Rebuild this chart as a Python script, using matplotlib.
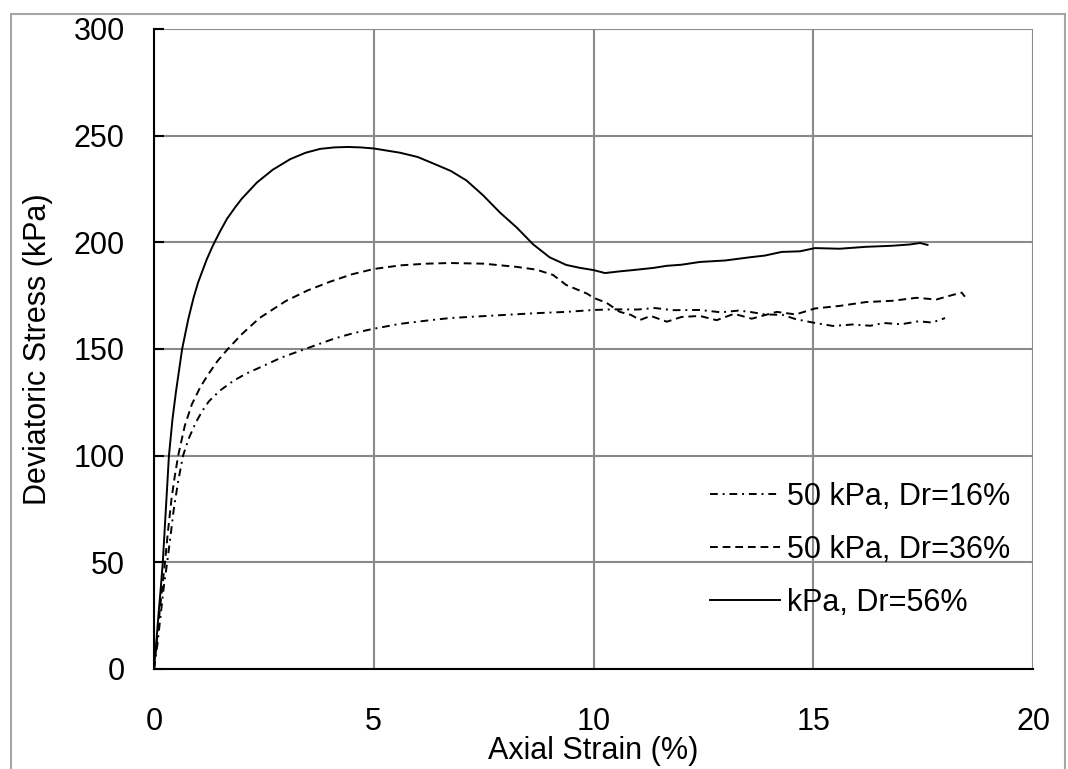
import matplotlib.pyplot as plt
from matplotlib.patches import Rectangle

# Dr = 16 % (dash-dot)
strain_16 = [0, 0.08, 0.15, 0.22, 0.3, 0.38, 0.45, 0.55, 0.66, 0.8, 0.95, 1.1, 1.25, 1.5, 1.8,
             2.1, 2.48, 2.9, 3.37, 3.75, 4.12, 4.55, 5.0, 5.6, 6.2, 6.73, 7.4, 8.0, 8.7, 9.38,
             10.0, 10.5, 11.0, 11.4, 11.8, 12.42, 12.9, 13.3, 13.56, 13.9, 14.3, 14.6, 15.04,
             15.45, 15.9, 16.3, 16.6, 17.0, 17.4, 17.7, 18.0]
stress_16 = [0, 12, 25, 38, 50, 63, 75, 88, 100, 108.5, 115.5, 121, 125.5, 130.5, 135,
             138.5, 142, 146, 149.5, 152.3, 155, 157.5, 159.5, 161.8, 163.3, 164.5, 165.3, 166, 166.8, 167.4,
             168.3, 168.6, 168.5, 169.2, 168.2, 168.3, 167.2, 168.0, 167.4, 166.2, 166.0, 164.0, 162.2,
             160.8, 161.5, 160.9, 162.2, 161.6, 163.0, 162.4, 164.5]

# Dr = 36 % (dashed)
strain_36 = [0, 0.06, 0.12, 0.18, 0.25, 0.32, 0.4, 0.47, 0.55, 0.7, 0.86, 1.05, 1.23, 1.45, 1.68,
             2.0, 2.4, 3.0, 3.5, 4.0, 4.5, 5.0, 5.6, 6.2, 6.73, 7.5, 8.25, 8.7, 9.08, 9.38,
             9.85, 10.0, 10.3, 10.6, 10.85, 11.06, 11.3, 11.67, 12.0, 12.42, 12.8, 13.2, 13.6,
             14.17, 14.6, 15.04, 15.6, 16.2, 16.8, 17.35, 17.8, 18.2, 18.38, 18.45]
stress_36 = [0, 12, 25, 37, 50, 65, 80, 90, 100, 114, 124, 132, 138, 144.5, 150,
             157, 164.5, 172.5, 177.5, 181.5, 185, 187.5, 189.2, 190, 190.3, 190, 188.5, 187.2, 184.7, 180,
             176, 174, 171.6, 167.4, 166, 163.6, 165.5, 162.8, 165, 165.5, 163.5, 166.5, 164.2,
             167.4, 166.2, 169, 170.2, 172, 172.6, 174, 173.2, 175.5, 176.4, 174.5]

# Dr = 56 % (solid)
strain_56 = [0, 0.05, 0.1, 0.15, 0.2, 0.27, 0.34, 0.42, 0.5, 0.64, 0.78, 0.9, 1.0, 1.2, 1.34, 1.5,
             1.66, 1.85, 2.0, 2.34, 2.7, 3.1, 3.45, 3.78, 4.1, 4.41, 4.7, 5.0, 5.6, 6.0, 6.35, 6.75, 7.11,
             7.49, 7.87, 8.25, 8.63, 9.0, 9.38, 9.7, 10.0, 10.26, 10.6, 10.9, 11.36, 11.67,
             12.0, 12.42, 13.0, 13.56, 13.9, 14.28, 14.7, 15.04, 15.6, 16.2, 16.8, 17.2, 17.43, 17.6]
stress_56 = [0, 12, 25, 37, 50, 75, 100, 117, 130, 150, 164, 174, 181, 192, 198.5, 205,
             211, 216.5, 220.5, 228, 234, 239, 242, 243.8, 244.5, 244.7, 244.5, 244, 242, 240, 237, 233.5, 229,
             222, 214, 207, 199, 193, 189.4, 188, 187, 185.6, 186.4, 187, 188, 189,
             189.5, 190.8, 191.5, 193, 193.8, 195.5, 195.8, 197.3, 197.0, 197.9, 198.4, 199.0, 199.7, 198.8]

labels = ["50 kPa, Dr=16%", "50 kPa, Dr=36%", "kPa, Dr=56%"]

x_ticks = [0, 5, 10, 15, 20]
y_ticks = [0, 50, 100, 150, 200, 250, 300]


def main() -> None:
    plt.rcParams['font.family'] = ['Liberation Sans', 'DejaVu Sans']
    fs = 22

    fig = plt.figure(figsize=(10.68, 7.69), dpi=100)
    ax = fig.add_axes([154 / 1068, 1 - 669 / 769, 879 / 1068, 640 / 769])

    ax.plot(strain_16, stress_16, color='black', lw=1.4,
            linestyle=(0, (4, 2.5, 1, 2.5)), label=labels[0])
    ax.plot(strain_36, stress_36, color='black', lw=1.4,
            linestyle=(0, (4, 2.5)), label=labels[1])
    ax.plot(strain_56, stress_56, color='black', lw=1.4,
            linestyle='-', label=labels[2])

    ax.set_xlim(0, 20)
    ax.set_ylim(0, 300)
    ax.set_xticks(x_ticks)
    ax.set_yticks(y_ticks)
    ax.grid(True, color='#8a8a8a', lw=1.5)
    ax.set_axisbelow(True)

    for s in ['top', 'right']:
        ax.spines[s].set_visible(False)
    for s in ['left', 'bottom']:
        ax.spines[s].set_linewidth(1.5)
        ax.spines[s].set_color('black')

    ax.tick_params(axis='x', length=0, pad=27, labelsize=fs)
    ax.tick_params(axis='y', direction='in', length=7, width=1.5, pad=21, labelsize=fs)

    ax.set_xlabel("Axial Strain (%)", fontsize=fs)
    ax.set_ylabel("Deviatoric Stress (kPa)", fontsize=fs)
    ax.xaxis.set_label_coords(0.5, (669 - 751) / 640)
    ax.xaxis.label.set_va('center')
    ax.yaxis.set_label_coords((38 - 154) / 879, 0.5)
    ax.yaxis.label.set_va('center')

    ax.legend(loc='upper left', bbox_to_anchor=((710 - 154) / 879, (669 - 482) / 640),
              frameon=False, fontsize=fs, borderpad=0, borderaxespad=0,
              handlelength=2.29, handletextpad=0.23, labelspacing=0.75)

    # outer chart border
    fig.patches.append(Rectangle((11 / 1068, -0.02), 1054 / 1068, 1.02 - 14 / 769,
                                 transform=fig.transFigure, fill=False,
                                 edgecolor='#a6a6a6', lw=1.5))

    fig.savefig("out.png", dpi=100)
    plt.close()


if __name__ == "__main__":
    main()
